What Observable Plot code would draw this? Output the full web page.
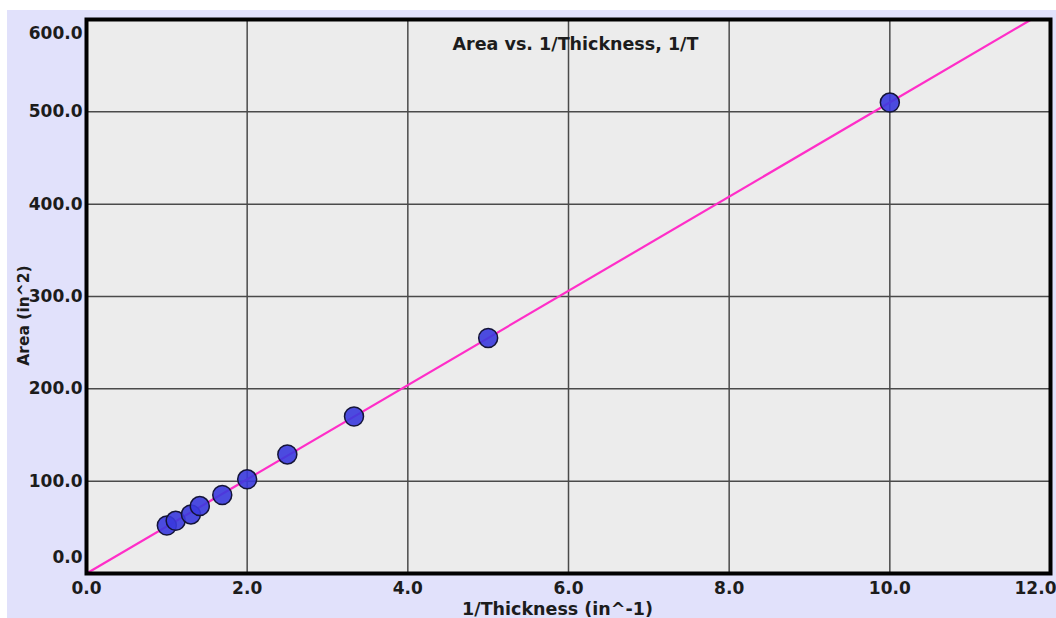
<!DOCTYPE html>
<html>
<head>
<meta charset="utf-8">
<script src="https://cdn.jsdelivr.net/npm/d3@7"></script>
<script src="https://cdn.jsdelivr.net/npm/@observablehq/plot@0.6"></script>
<style>
  html, body { margin: 0; padding: 0; background: #ffffff; width: 1056px; height: 618px; overflow: hidden; }
  #chart { position: absolute; left: 7px; top: 10px; }
</style>
</head>
<body>
<div id="chart"></div>
<script>
// Data
const invThickness = [1.0, 1.11, 1.3, 1.41, 1.69, 2.0, 2.5, 3.33, 5.0, 10.0];
const area = [52, 57, 64, 73, 85, 102, 129, 170, 255, 510];
const fitX = [0, 11.76];
const fitY = [0, 600];
const xTicks = [0, 2, 4, 6, 8, 10];
const xTickLast = [12];
const yTicksMid = [100, 200, 300, 400, 500];
const xGrid = [2, 4, 6, 8, 10];
const yGrid = [100, 200, 300, 400, 500];
const title = "Area vs. 1/Thickness, 1/T";
const xLabel = "1/Thickness (in^-1)";
const yLabel = "Area (in^2)";

const points = invThickness.map((x, i) => ({x, y: area[i]}));
const fit = fitX.map((x, i) => ({x, y: fitY[i]}));

const font = "DejaVu Sans, Verdana, sans-serif";
const fmt = d => d.toFixed(1);
const tickStyle = {fontSize: 17, fontWeight: "bold", fill: "#1c1c1c", tickSize: 0, tickFormat: fmt, label: null};

const chart = Plot.plot({
  width: 1049,
  height: 608,
  marginLeft: 79,
  marginTop: 9,
  marginRight: 6,
  marginBottom: 45,
  style: {background: "#e1e1fb", fontFamily: font, overflow: "visible"},
  x: {domain: [0, 12], axis: null},
  y: {domain: [0, 600], axis: null},
  marks: [
    Plot.frame({fill: "#ececec"}),
    Plot.ruleX(xGrid, {stroke: "#4a4a4a", strokeWidth: 1.5}),
    Plot.ruleY(yGrid, {stroke: "#4a4a4a", strokeWidth: 1.5}),
    Plot.line(fit, {x: "x", y: "y", stroke: "#ff2ec8", strokeWidth: 2.2}),
    Plot.dot(points, {x: "x", y: "y", r: 9.5, fill: "#3a3ade", fillOpacity: 0.9, stroke: "#141438", strokeWidth: 1.5}),
    Plot.frame({stroke: "#000000", strokeWidth: 4}),
    Plot.axisY(yTicksMid, {...tickStyle, anchor: "left", tickPadding: 4}),
    Plot.axisY([600], {...tickStyle, anchor: "left", tickPadding: 4, dy: 14}),
    Plot.axisY([0], {...tickStyle, anchor: "left", tickPadding: 4, dy: -16}),
    Plot.axisX(xTicks, {...tickStyle, anchor: "bottom", tickPadding: 8}),
    Plot.axisX(xTickLast, {...tickStyle, anchor: "bottom", tickPadding: 8, dx: -15}),
    Plot.text([title], {frameAnchor: "top", lineAnchor: "middle", dy: 25, dx: 7, fontSize: 17.5, fontWeight: "bold", fill: "#1c1c1c"}),
    Plot.text([xLabel], {frameAnchor: "bottom", lineAnchor: "middle", dy: 36, dx: -11, fontSize: 17.5, fontWeight: "bold", fill: "#1c1c1c"}),
    Plot.text([yLabel], {frameAnchor: "left", textAnchor: "middle", lineAnchor: "middle", dx: -62, dy: 19, rotate: -90, fontSize: 15.5, fontWeight: "bold", fill: "#1c1c1c"})
  ]
});
document.getElementById("chart").appendChild(chart);
</script>
</body>
</html>
